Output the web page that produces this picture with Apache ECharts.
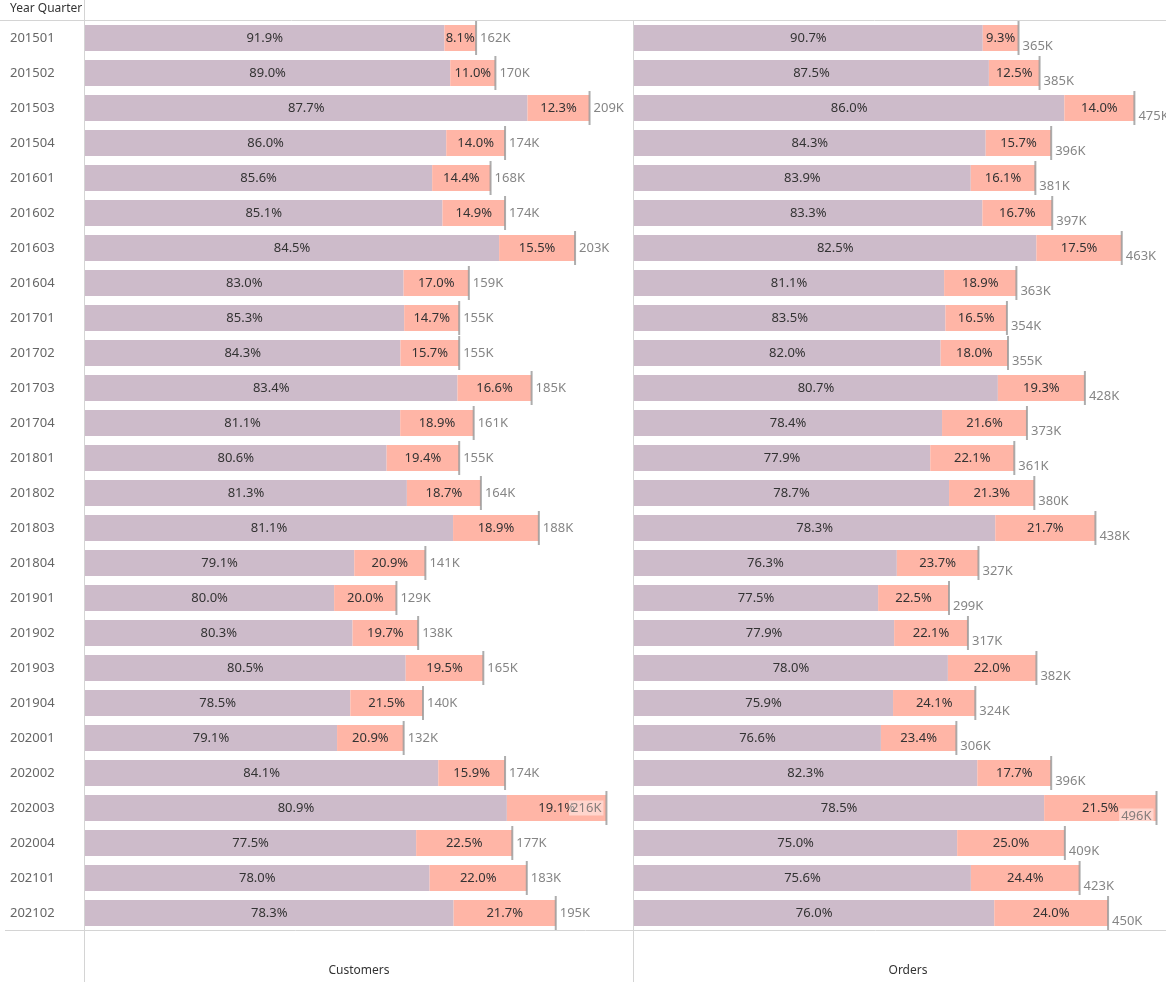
<!DOCTYPE html>
<html><head><meta charset="utf-8">
<script src="https://cdn.jsdelivr.net/npm/echarts@6/dist/echarts.min.js"></script>
<style>html,body{margin:0;padding:0;background:#fff}#c{width:1166px;height:982px}</style>
</head><body><div id="c"></div>
<script>
const quarters = ['201501','201502','201503','201504','201601','201602','201603','201604','201701','201702','201703','201704','201801','201802','201803','201804','201901','201902','201903','201904','202001','202002','202003','202004','202101','202102'];
const custTotal = [162,170,209,174,168,174,203,159,155,155,185,161,155,164,188,141,129,138,165,140,132,174,216,177,183,195];
const custPctA = [91.9,89.0,87.7,86.0,85.6,85.1,84.5,83.0,85.3,84.3,83.4,81.1,80.6,81.3,81.1,79.1,80.0,80.3,80.5,78.5,79.1,84.1,80.9,77.5,78.0,78.3];
const custPctB = [8.1,11.0,12.3,14.0,14.4,14.9,15.5,17.0,14.7,15.7,16.6,18.9,19.4,18.7,18.9,20.9,20.0,19.7,19.5,21.5,20.9,15.9,19.1,22.5,22.0,21.7];
const ordTotal = [365,385,475,396,381,397,463,363,354,355,428,373,361,380,438,327,299,317,382,324,306,396,496,409,423,450];
const ordPctA = [90.7,87.5,86.0,84.3,83.9,83.3,82.5,81.1,83.5,82.0,80.7,78.4,77.9,78.7,78.3,76.3,77.5,77.9,78.0,75.9,76.6,82.3,78.5,75.0,75.6,76.0];
const ordPctB = [9.3,12.5,14.0,15.7,16.1,16.7,17.5,18.9,16.5,18.0,19.3,21.6,22.1,21.3,21.7,23.7,22.5,22.1,22.0,24.1,23.4,17.7,21.5,25.0,24.4,24.0];
const panels = ['Customers','Orders'];

const FONT = '"Noto Sans", sans-serif';
const COL_A = '#cdbbca', COL_B = '#ffb5a6';
const maxes = [227, 505];

function segData(total, pct) {
  return total.map((t, i) => ({ value: t * pct[i] / 100, label: { formatter: pct[i].toFixed(1) + '%' } }));
}
function tickData(total, max) {
  return total.map((t, i) => {
    const inside = t / max > 0.945;
    const d = { value: [t, quarters[i]] };
    if (inside) {
      d.label = { position: 'left', distance: 2, backgroundColor: 'rgba(255,255,255,0.55)', padding: [1, 2, 1, 2] };
    }
    return d;
  });
}

const series = [];
[[custTotal, custPctA, custPctB, 0], [ordTotal, ordPctA, ordPctB, 1]].forEach(([tot, a, b, gi]) => {
  const lab = { show: true, position: 'inside', color: '#333', fontSize: 13, fontFamily: FONT };
  series.push({ type: 'bar', xAxisIndex: gi, yAxisIndex: gi, stack: 's' + gi, barWidth: 26, data: segData(tot, a), itemStyle: { color: COL_A }, label: lab, silent: true });
  series.push({ type: 'bar', xAxisIndex: gi, yAxisIndex: gi, stack: 's' + gi, barWidth: 26, data: segData(tot, b), itemStyle: { color: COL_B }, label: lab, silent: true });
  series.push({
    type: 'scatter', xAxisIndex: gi, yAxisIndex: gi, symbol: 'rect', symbolSize: [2, 34],
    itemStyle: { color: '#999999' }, z: 5, silent: true,
    data: tickData(tot, maxes[gi]),
    label: { show: true, position: 'right', distance: 3, offset: gi === 1 ? [0, 8] : [0, 0], color: '#666', fontSize: 13, fontFamily: FONT,
      formatter: p => p.value[0] + 'K' }
  });
});

const chart = echarts.init(document.getElementById('c'));
chart.setOption({
  animation: false,
  grid: [
    { left: 85, top: 20.5, width: 548, height: 910, outerBoundsMode: 'none', containLabel: false },
    { left: 634, top: 20.5, width: 532, height: 910, outerBoundsMode: 'none', containLabel: false }
  ],
  xAxis: panels.map((n, i) => ({
    gridIndex: i, type: 'value', min: 0, max: maxes[i],
    name: n, nameLocation: 'middle', nameGap: 34,
    nameTextStyle: { color: '#333', fontSize: 12, fontFamily: FONT, padding: i === 1 ? [0, 0, 0, 16] : 0 },
    axisLine: { show: false }, axisTick: { show: false }, axisLabel: { show: false }, splitLine: { show: false }
  })),
  yAxis: [0, 1].map(i => ({
    gridIndex: i, type: 'category', data: quarters, inverse: true,
    axisLine: { show: false }, axisTick: { show: false },
    axisLabel: i === 0 ? { show: true, align: 'left', margin: 75, color: '#666', fontSize: 13, fontFamily: FONT } : { show: false }
  })),
  graphic: [
    { type: 'line', shape: { x1: 0, y1: 20.5, x2: 1166, y2: 20.5 }, style: { stroke: '#d4d4d4', lineWidth: 1 }, z: 10 },
    { type: 'line', shape: { x1: 5, y1: 930.5, x2: 1166, y2: 930.5 }, style: { stroke: '#d4d4d4', lineWidth: 1 }, z: 10 },
    { type: 'line', shape: { x1: 84.5, y1: 0, x2: 84.5, y2: 982 }, style: { stroke: '#d4d4d4', lineWidth: 1 }, z: 10 },
    { type: 'line', shape: { x1: 633.5, y1: 20, x2: 633.5, y2: 982 }, style: { stroke: '#d4d4d4', lineWidth: 1 }, z: 10 },
    { type: 'text', left: 10, top: 3, style: { text: 'Year Quarter', fill: '#333', fontSize: 12, fontFamily: FONT } }
  ],
  series
});
</script></body></html>
